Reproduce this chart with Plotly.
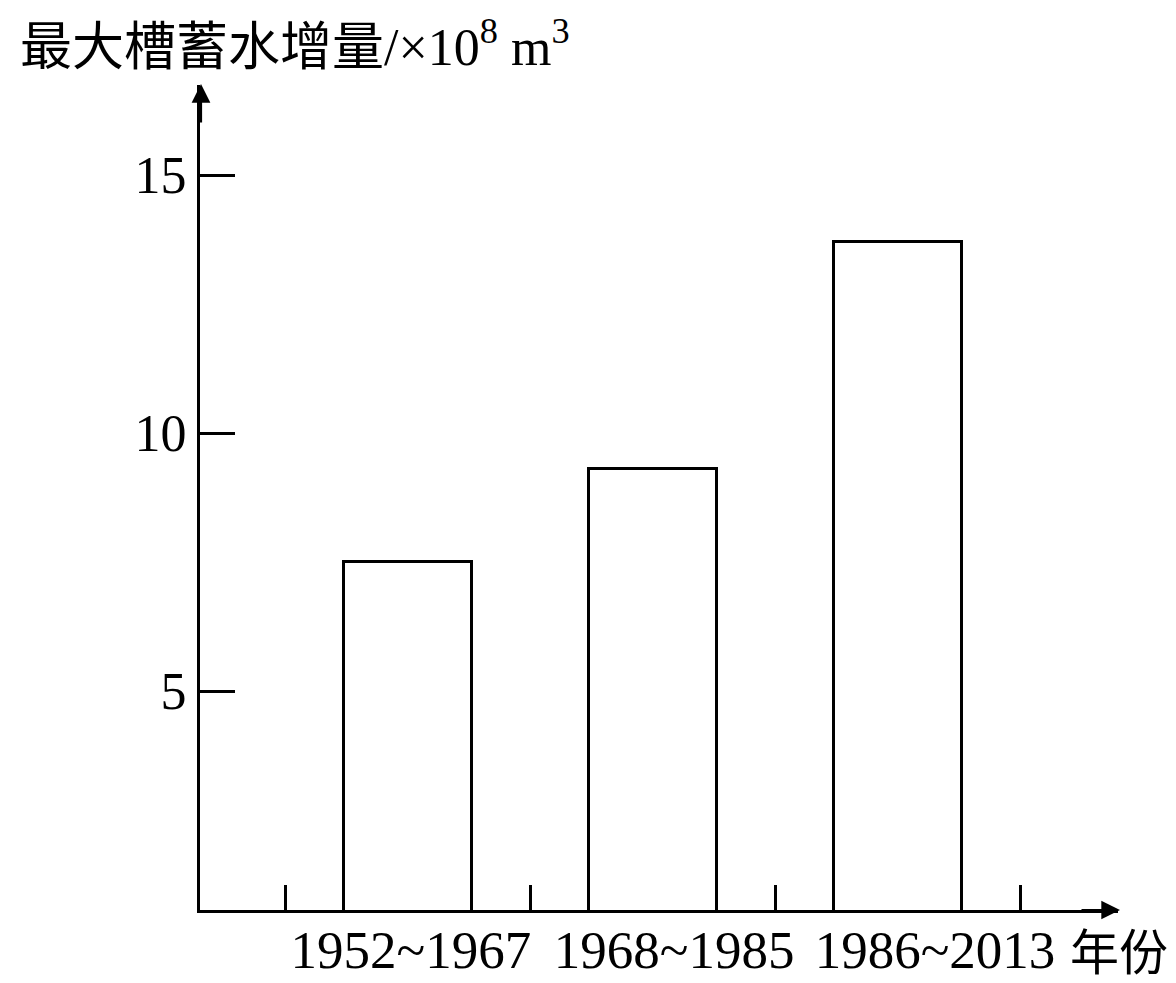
import plotly.graph_objects as go

# ---- data ----
categories = ["1952~1967", "1968~1985", "1986~2013"]
values = [7.5, 9.3, 13.7]
cat_pos = [1, 2, 3]
label_pos = [1.012, 2.086, 3.151]
y_ticks = [5, 10, 15]
x_tick_marks = [0.5, 1.5, 2.5, 3.5]
y_title = "最大槽蓄水增量/×10<sup>8</sup> m<sup>3</sup>"
x_title = "年份"

W, H = 1176, 983
L, R, T, B = 200, 58, 85, 73
XR = [0.151, 3.898]
YR = [0.758, 16.75]

FONT = "Liberation Serif, Noto Sans CJK SC, serif"

def px_x(p):
    return (p - L) / (W - L - R)

def px_y(p):
    return (H - B - p) / (H - T - B)

fig = go.Figure()
fig.add_trace(go.Bar(
    x=cat_pos, y=values, width=0.522,
    marker=dict(color="white", line=dict(color="black", width=3)),
    showlegend=False, hoverinfo="skip",
))
# invisible trace on second x axis so category labels render
fig.add_trace(go.Scatter(x=label_pos, y=values, xaxis="x2", mode="markers",
                         marker=dict(opacity=0), showlegend=False, hoverinfo="skip"))

fig.update_layout(
    width=W, height=H,
    margin=dict(l=L, r=R, t=T, b=B, pad=0, autoexpand=False),
    paper_bgcolor="white", plot_bgcolor="white",
    font=dict(family=FONT, color="black"),
    xaxis=dict(range=XR, tickvals=x_tick_marks, ticks="inside", ticklen=25,
               tickwidth=2.5, tickcolor="black", showticklabels=False,
               showline=True, linecolor="black", linewidth=3, automargin=False,
               showgrid=False, zeroline=False, fixedrange=True),
    xaxis2=dict(range=XR, overlaying="x", anchor="y", side="bottom",
                tickvals=label_pos, ticktext=categories, ticks="", showline=False,
                showgrid=False, zeroline=False, ticklabelstandoff=4, automargin=False,
                tickfont=dict(family=FONT, size=53, color="black")),
    yaxis=dict(range=YR, tickvals=y_ticks, ticks="inside", ticklen=35,
               tickwidth=2.5, tickcolor="black", automargin=False,
               tickfont=dict(family=FONT, size=52, color="black"),
               showline=True, linecolor="black", linewidth=3,
               showgrid=False, zeroline=False),
    bargap=0,
)

annotations = [
    # y axis arrowhead
    dict(xref="paper", yref="paper", x=px_x(201), y=px_y(84), ax=0, ay=40,
         showarrow=True, arrowhead=2, arrowsize=1.7, arrowwidth=2.2,
         arrowcolor="black", text=""),
    # x axis arrowhead
    dict(xref="paper", yref="paper", x=px_x(1120), y=px_y(910), ax=-40, ay=0,
         showarrow=True, arrowhead=2, arrowsize=1.7, arrowwidth=2.2,
         arrowcolor="black", text=""),
    dict(xref="paper", yref="paper", x=px_x(18), y=px_y(44), xanchor="left",
         yanchor="middle", showarrow=False, text=y_title,
         font=dict(family=FONT, size=52, color="black")),
    dict(xref="paper", yref="paper", x=px_x(1068), y=px_y(953), xanchor="left",
         yanchor="middle", showarrow=False, text=x_title,
         font=dict(family=FONT, size=49, color="black")),
]
fig.update_layout(annotations=annotations)

fig.write_html("out.html", post_script="document.body.style.margin='0';",
               config={"displayModeBar": False})
